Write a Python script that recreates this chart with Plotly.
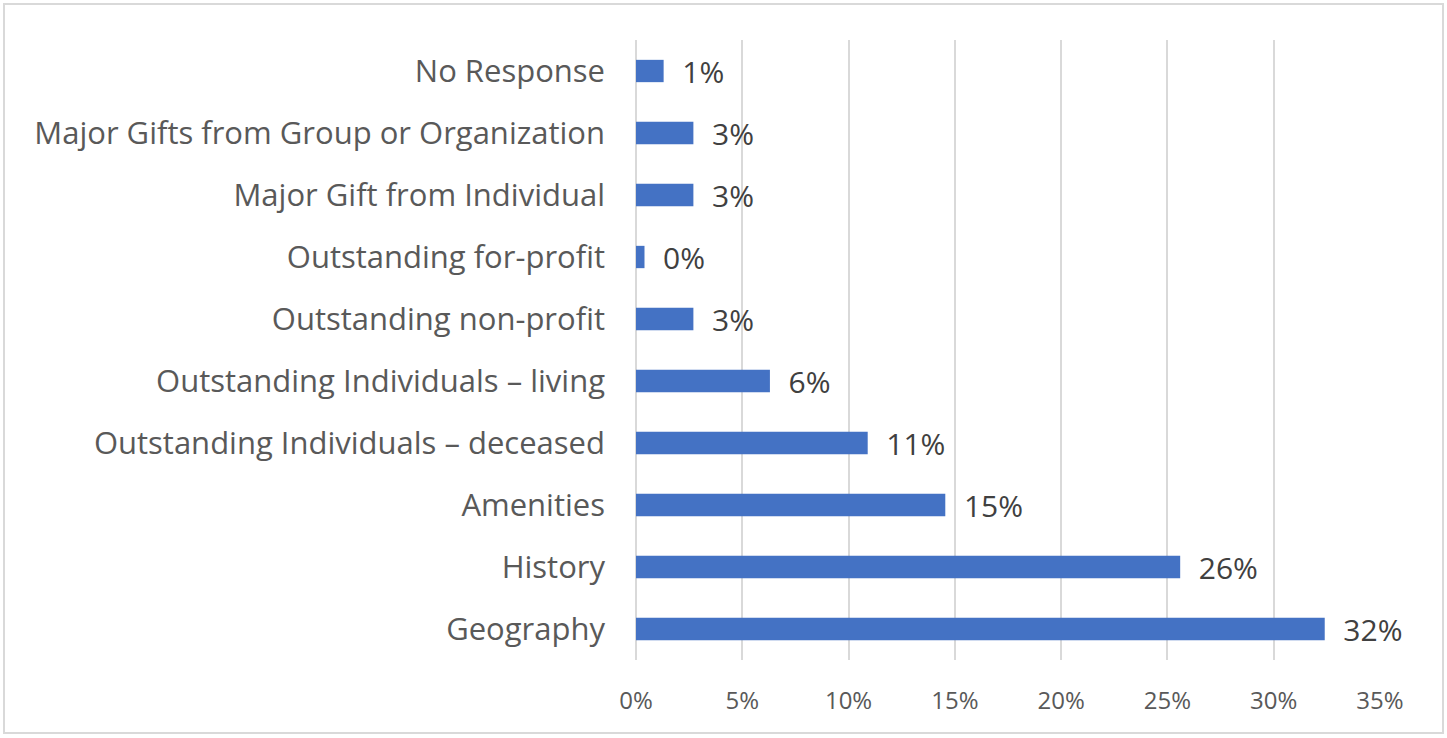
import plotly.graph_objects as go

categories = [
    "Geography",
    "History",
    "Amenities",
    "Outstanding Individuals – deceased",
    "Outstanding Individuals – living",
    "Outstanding non-profit",
    "Outstanding for-profit",
    "Major Gift from Individual",
    "Major Gifts from Group or Organization",
    "No Response",
]
shares = [0.324, 0.256, 0.1455, 0.109, 0.063, 0.027, 0.004, 0.027, 0.027, 0.013]
tick_values = [0, 0.05, 0.10, 0.15, 0.20, 0.25, 0.30, 0.35]
tick_labels = ["0%", "5%", "10%", "15%", "20%", "25%", "30%", "35%"]

W, H = 1447, 738
ML, MR, MT, MB = 636, 67, 40, 78
FONT = "Open Sans"

fig = go.Figure(
    go.Bar(
        x=shares,
        y=categories,
        orientation="h",
        marker=dict(color="#4472C4", line=dict(width=0)),
        texttemplate="\u00a0\u00a0%{x:.0%}",
        textposition="outside",
        constraintext="none",
        textfont=dict(family=FONT, size=30, color="#404040"),
        cliponaxis=False,
    )
)

pw = W - ML - MR
ph = H - MT - MB
# light frame around the whole chart
fig.add_shape(
    type="rect",
    xref="paper", yref="paper",
    x0=(4 - ML) / pw, x1=(W - 4 - ML) / pw,
    y0=-(H - 5 - (H - MB)) / ph, y1=1 + (MT - 4) / ph,
    line=dict(color="#D9D9D9", width=2),
    fillcolor="rgba(0,0,0,0)",
    layer="below",
)

fig.update_layout(
    width=W,
    height=H,
    margin=dict(l=ML, r=MR, t=MT, b=MB),
    paper_bgcolor="white",
    plot_bgcolor="white",
    bargap=0.64,
    showlegend=False,
    xaxis=dict(
        range=[0, 0.35],
        tickvals=tick_values,
        ticktext=tick_labels,
        showgrid=True,
        gridcolor="#D9D9D9",
        gridwidth=2,
        zeroline=True,
        zerolinecolor="#D9D9D9",
        zerolinewidth=2,
        showline=False,
        tickfont=dict(family=FONT, size=24, color="#595959"),
        ticklabelstandoff=24,
    ),
    yaxis=dict(
        showgrid=False,
        zeroline=False,
        showline=False,
        tickfont=dict(family=FONT, size=31, color="#595959"),
        ticklabelstandoff=30,
    ),
)

fig.write_html("out.html")
